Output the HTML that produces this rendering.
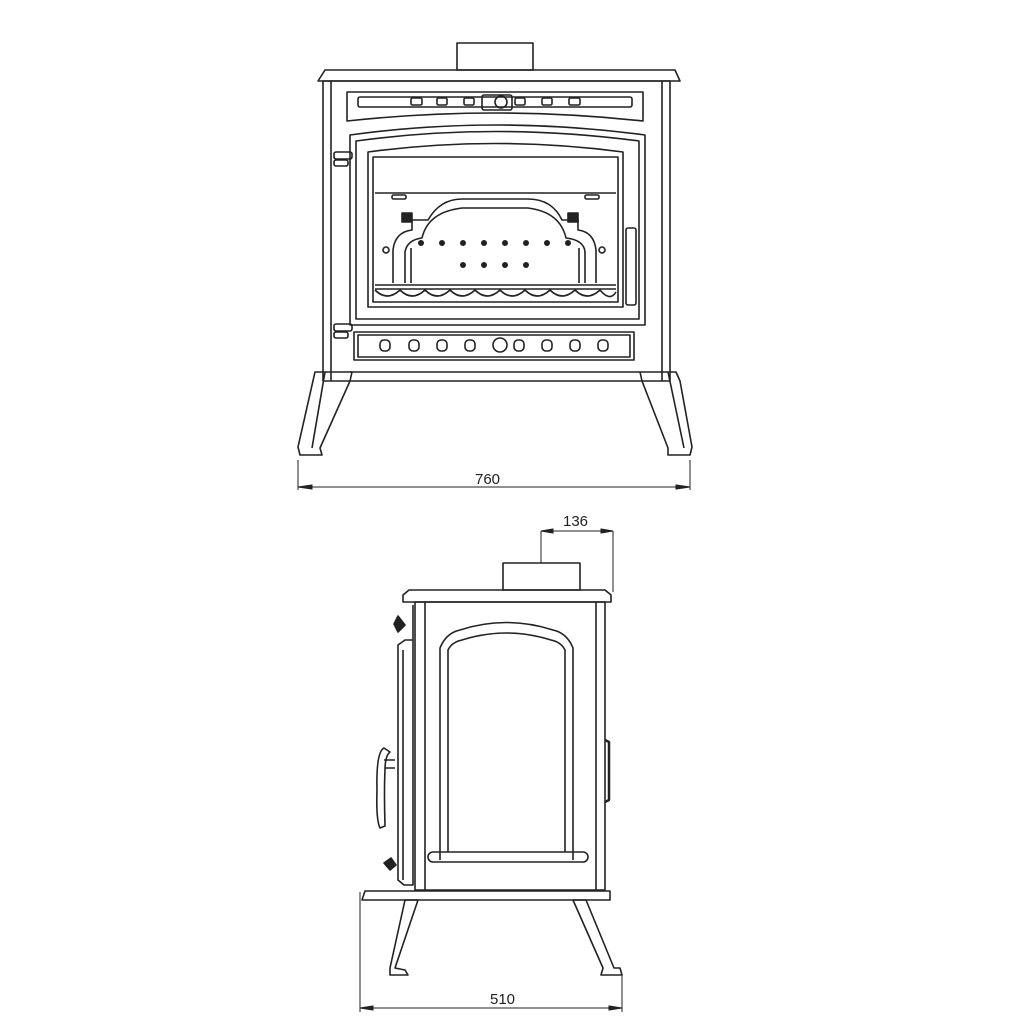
<!DOCTYPE html>
<html><head><style>
html,body{margin:0;padding:0;background:#fff;}
svg{display:block;}
text{font-family:"Liberation Sans",sans-serif;font-size:15px;fill:#222;}
</style></head><body>
<svg width="1025" height="1025" viewBox="0 0 1025 1025" xmlns="http://www.w3.org/2000/svg">
<g fill="none" stroke="#222" stroke-width="1.6" stroke-linejoin="round">
<!-- FRONT VIEW -->
<rect x="457" y="43" width="76" height="27"/>
<path d="M318 81 L325 70 L675 70 L680 81 Z"/>
<rect x="323" y="81" width="347" height="300"/>
<line x1="331" y1="81" x2="331" y2="381"/>
<line x1="662" y1="81" x2="662" y2="381"/>
<!-- upper panel -->
<path d="M347 92 L643 92 L643 121 Q495 105 347 121 Z"/>
<rect x="358" y="97" width="274" height="10" rx="2"/>
<rect x="411" y="98" width="11" height="7" rx="1.5"/>
<rect x="437" y="98" width="10" height="7" rx="1.5"/>
<rect x="464" y="98" width="10" height="7" rx="1.5"/>
<rect x="482" y="95" width="30" height="15" rx="2"/>
<circle cx="501" cy="102" r="6"/>
<rect x="515" y="98" width="10" height="7" rx="1.5"/>
<rect x="542" y="98" width="10" height="7" rx="1.5"/>
<rect x="569" y="98" width="11" height="7" rx="1.5"/>
<!-- door -->
<path d="M350 135 Q495 115 645 135 L645 325 L350 325 Z"/>
<path d="M356 141 Q495 122 639 141 L639 319 L356 319 Z"/>
<path d="M368 152 Q495 135 623 152 L623 307 L368 307 Z"/>
<rect x="373" y="157" width="245" height="145"/>
<line x1="375" y1="193" x2="616" y2="193"/>
<rect x="392" y="195" width="14" height="4" rx="1.5"/>
<rect x="585" y="195" width="14" height="4" rx="1.5"/>
<!-- grate arch -->
<path d="M393 283 L393 250 Q395 232 412 230 L412 220 L428 220 Q440 199 462 199 L528 199 Q552 199 562 220 L578 220 L578 230 Q594 232 596 250 L596 283"/>
<path d="M405 283 L405 252 Q407 240 422 238 Q428 212 462 208 L528 208 Q560 212 566 238 Q584 240 585 252 L585 283"/>
<path d="M411 283 L411 248 M579 283 L579 248"/>
<rect x="402" y="213" width="10" height="9" fill="#222"/>
<rect x="568" y="213" width="10" height="9" fill="#222"/>
<g fill="#222" stroke="none">
<circle cx="421" cy="243" r="3"/><circle cx="442" cy="243" r="3"/><circle cx="463" cy="243" r="3"/><circle cx="484" cy="243" r="3"/><circle cx="505" cy="243" r="3"/><circle cx="526" cy="243" r="3"/><circle cx="547" cy="243" r="3"/><circle cx="568" cy="243" r="3"/>
<circle cx="463" cy="265" r="3"/><circle cx="484" cy="265" r="3"/><circle cx="505" cy="265" r="3"/><circle cx="526" cy="265" r="3"/>
</g>
<circle cx="386" cy="250" r="3"/><circle cx="602" cy="250" r="3"/>
<line x1="375" y1="285" x2="616" y2="285"/>
<line x1="375" y1="289" x2="616" y2="289"/>
<path d="M375 290 Q387 302 400 290 Q412 302 425 290 Q437 302 450 290 Q462 302 475 290 Q487 302 500 290 Q512 302 525 290 Q537 302 550 290 Q562 302 575 290 Q587 302 600 290 Q610 302 616 292"/>
<rect x="626" y="228" width="10" height="77" rx="2"/>
<!-- hinges -->
<rect x="334" y="152" width="18" height="7" rx="2"/>
<rect x="334" y="160" width="14" height="6" rx="2"/>
<rect x="334" y="324" width="18" height="7" rx="2"/>
<rect x="334" y="332" width="14" height="6" rx="2"/>
<!-- lower panel -->
<rect x="354" y="332" width="280" height="28"/>
<rect x="358" y="335" width="272" height="22"/>
<rect x="380" y="340" width="10" height="11" rx="4"/>
<rect x="409" y="340" width="10" height="11" rx="4"/>
<rect x="437" y="340" width="10" height="11" rx="4"/>
<rect x="465" y="340" width="10" height="11" rx="4"/>
<circle cx="500" cy="345" r="7"/>
<rect x="514" y="340" width="10" height="11" rx="4"/>
<rect x="542" y="340" width="10" height="11" rx="4"/>
<rect x="570" y="340" width="10" height="11" rx="4"/>
<rect x="598" y="340" width="10" height="11" rx="4"/>
<!-- base & legs -->
<line x1="350" y1="372" x2="640" y2="372"/>
<path d="M315 372 L352 372 L350 381 L320 448 L322 455 L300 455 L298 447 Z"/>
<line x1="325" y1="372" x2="312" y2="448"/>
<path d="M640 372 L676 372 L680 381 L692 447 L690 455 L668 455 L668 448 L642 381 Z"/>
<line x1="668" y1="372" x2="684" y2="448"/>
<!-- dim 760 -->
<line x1="298" y1="460" x2="298" y2="490" stroke-width="1"/>
<line x1="690" y1="460" x2="690" y2="490" stroke-width="1"/>
<!-- SIDE VIEW -->
<rect x="503" y="563" width="77" height="27"/>
<path d="M403 595 L409 590 L605 590 L611 595 L611 602 L403 602 Z"/>
<rect x="415" y="602" width="190" height="288"/>
<line x1="425" y1="602" x2="425" y2="890"/>
<line x1="596" y1="602" x2="596" y2="890"/>
<path d="M440 860 L440 648 Q446 633 460 630 Q506 615 553 630 Q567 633 573 648 L573 860"/>
<path d="M448 852 L448 650 Q452 642 462 640 Q506 626 551 640 Q561 642 565 650 L565 852"/>
<rect x="428" y="852" width="160" height="10" rx="5"/>
<path d="M413 605 L413 885 L404 885 L398 880 L398 645 L405 640 L413 640"/>
<path d="M403 650 L403 880"/>
<path d="M405 625 L398 616 L394 624 L398 632 Z" fill="#222"/>
<path d="M391 858 L384 863 L390 870 L396 865 Z" fill="#222"/>
<path d="M395 760 L384 760 M395 768 L385 768"/>
<path d="M384 748 Q376 752 377 790 Q376 820 380 828 L385 826 Q384 790 385 770 Q385 756 390 752 Z"/>
<path d="M605 740 L609 742 L609 800 L605 802" stroke-width="2.5"/>
<!-- base & legs -->
<path d="M365 891 L610 891 L610 900 L362 900 Z"/>
<path d="M405 900 L418 900 L395 968 L405 970 L408 975 L390 975 L390 968 Z"/>
<path d="M573 900 L586 900 L614 968 L620 968 L622 975 L601 975 L603 968 Z"/>
<!-- dims -->
<line x1="541" y1="531" x2="541" y2="563" stroke-width="1"/>
<line x1="613" y1="531" x2="613" y2="592" stroke-width="1"/>
<line x1="360" y1="892" x2="360" y2="1012" stroke-width="1"/>
<line x1="622" y1="975" x2="622" y2="1012" stroke-width="1"/>
</g>
<g stroke="#222" stroke-width="1" fill="#222">
<line x1="298" y1="487" x2="690" y2="487"/>
<path d="M298 487 L312 485 L312 489 Z"/>
<path d="M690 487 L676 485 L676 489 Z"/>
<line x1="541" y1="531" x2="613" y2="531"/>
<path d="M541 531 L553 529 L553 533 Z"/>
<path d="M613 531 L601 529 L601 533 Z"/>
<line x1="360" y1="1008" x2="622" y2="1008"/>
<path d="M360 1008 L373 1006 L373 1010 Z"/>
<path d="M622 1008 L609 1006 L609 1010 Z"/>
</g>
<text x="475" y="484">760</text>
<text x="563" y="526">136</text>
<text x="490" y="1004">510</text>
</svg>
</body></html>
